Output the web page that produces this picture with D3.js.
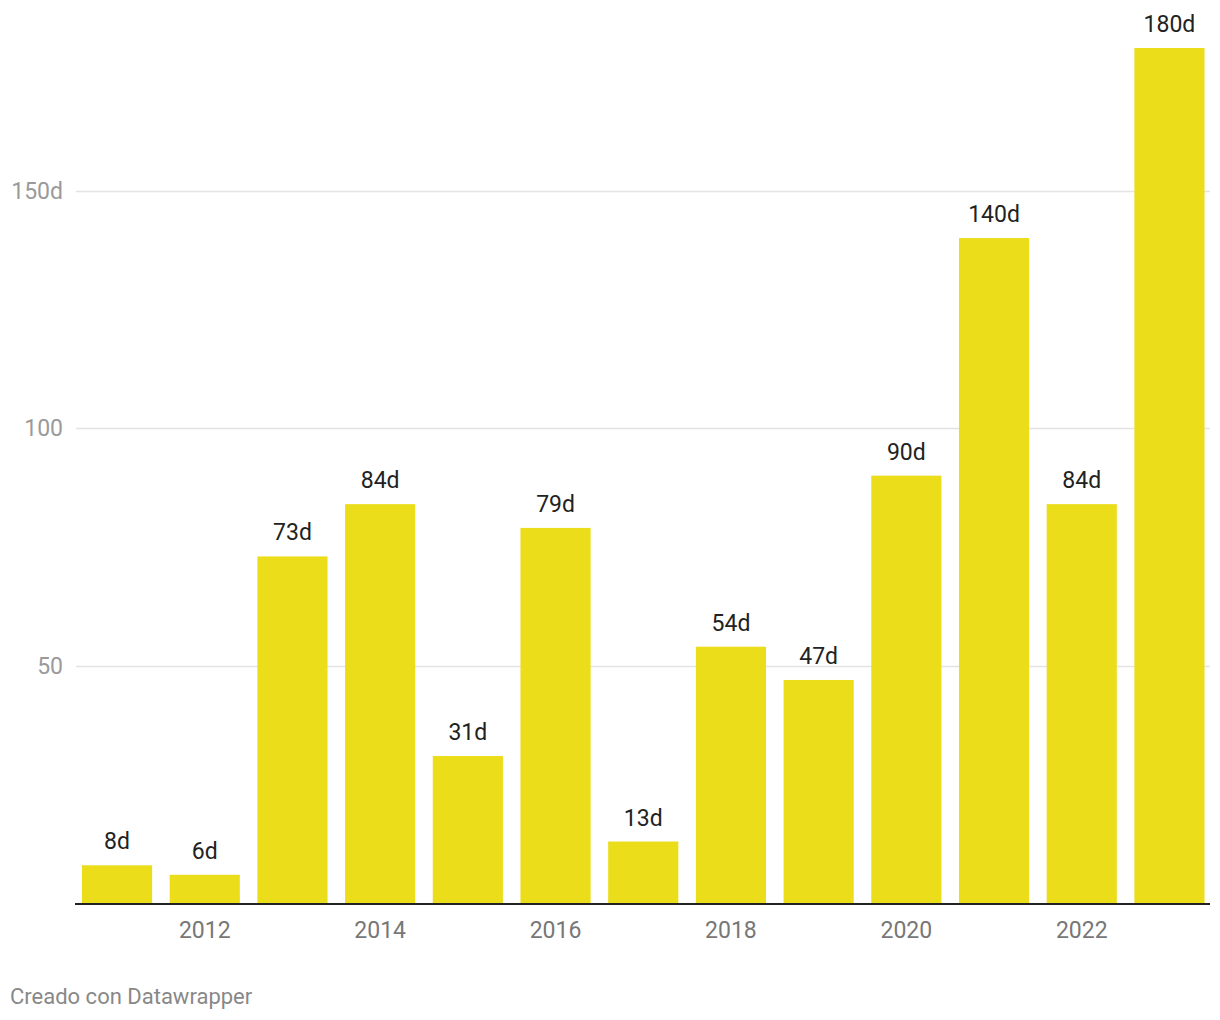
<!DOCTYPE html>
<html><head><meta charset="utf-8">
<script src="https://cdn.jsdelivr.net/npm/d3@7"></script>
<style>body{margin:0;background:#fff;font-family:Roboto,"Noto Sans",sans-serif;}</style>
</head><body><svg id="c" width="1220" height="1020"></svg>
<script>
const years = [2011,2012,2013,2014,2015,2016,2017,2018,2019,2020,2021,2022,2023];
const values = [8,6,73,84,31,79,13,54,47,90,140,84,180];
const yTicks = [50,100,150];
const yTickLabels = ["50","100","150d"];
const xTickYears = [2012,2014,2016,2018,2020,2022];

const svg = d3.select("#c");
const y = d3.scaleLinear().domain([0,180]).range([903.3,48]);
const x = d3.scaleBand().domain(years).range([73.2,1213.3]).paddingInner(0.2).paddingOuter(0.1);

// grid
svg.append("g").selectAll("line").data(yTicks).join("line")
  .attr("x1",76).attr("x2",1210)
  .attr("y1",d=>Math.round(y(d))+0.5).attr("y2",d=>Math.round(y(d))+0.5)
  .attr("stroke","#e3e3e3").attr("stroke-width",1.5);
svg.append("g").selectAll("text").data(yTicks).join("text")
  .attr("x",63).attr("y",d=>y(d)+8)
  .attr("text-anchor","end").attr("font-size",23).attr("fill","#9a9a9a")
  .text((d,i)=>yTickLabels[i]);

// bars
svg.append("g").selectAll("rect").data(values).join("rect")
  .attr("x",(d,i)=>x(years[i])).attr("width",x.bandwidth())
  .attr("y",d=>y(d)).attr("height",d=>y(0)-y(d))
  .attr("fill","#ecdd1a");

// value labels
svg.append("g").selectAll("text").data(values).join("text")
  .attr("x",(d,i)=>x(years[i])+x.bandwidth()/2).attr("y",d=>y(d)-16)
  .attr("text-anchor","middle").attr("font-size",23).attr("fill","#222")
  .text(d=>d+"d");

// baseline
svg.append("line").attr("x1",75).attr("x2",1210).attr("y1",y(0)+0.7).attr("y2",y(0)+0.7)
  .attr("stroke","#222").attr("stroke-width",2);

// x labels
svg.append("g").selectAll("text").data(xTickYears).join("text")
  .attr("x",d=>x(d)+x.bandwidth()/2).attr("y",938)
  .attr("text-anchor","middle").attr("font-size",23).attr("fill","#777")
  .text(d=>d);

svg.append("text").attr("x",10).attr("y",1004).attr("font-size",22).attr("fill","#888")
  .text("Creado con Datawrapper");
</script></body></html>
